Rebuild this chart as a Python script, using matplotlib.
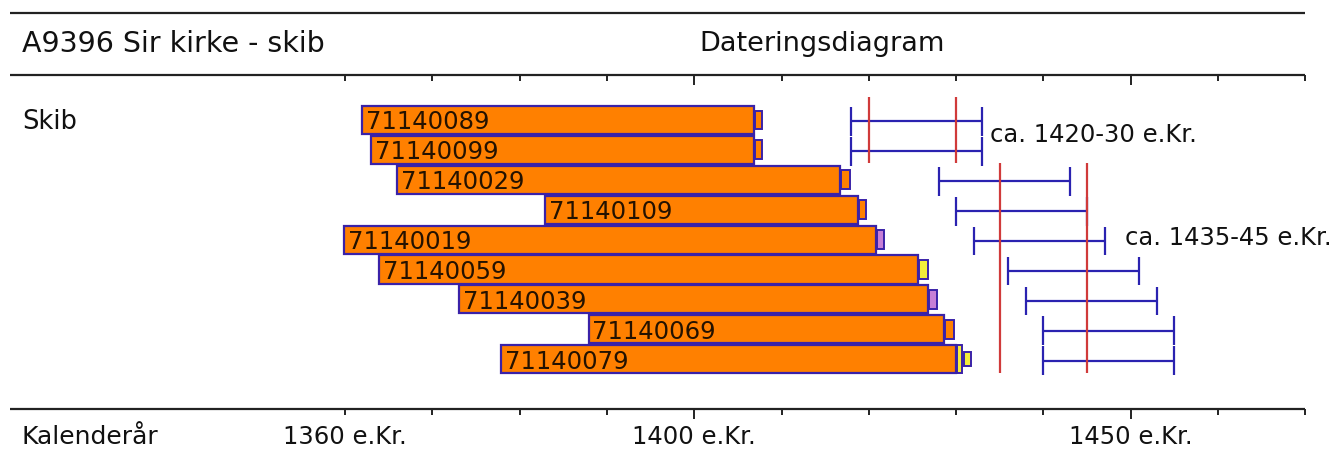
import matplotlib
matplotlib.use("Agg")
import matplotlib.pyplot as plt
from matplotlib.patches import Rectangle

# ---------------- data ----------------
title_left = "A9396 Sir kirke - skib"
title_mid = "Dateringsdiagram"
group_label = "Skib"
axis_label = "Kalenderår"

samples = ["71140089", "71140099", "71140029", "71140109", "71140019",
           "71140059", "71140039", "71140069", "71140079"]
ring_start = [1361.9, 1363.0, 1366.0, 1382.9, 1359.9, 1363.9, 1373.1, 1387.9, 1377.9]
ring_end = [1406.9, 1406.9, 1416.7, 1418.8, 1420.8, 1425.6, 1426.8, 1428.6, 1430.0]
box_end = [1407.8, 1407.8, 1417.8, 1419.7, 1421.7, 1426.8, 1427.8, 1429.8, 1430.7]
box_kind = ["orange", "orange", "orange", "orange", "purple", "yellow", "purple", "orange", "yellow_full"]
extra_box = [None, None, None, None, None, None, None, None, (1430.9, 1431.7)]

felling_lo = [1418, 1418, 1428, 1430, 1432, 1436, 1438, 1440, 1440]
felling_hi = [1433, 1433, 1443, 1445, 1447, 1451, 1453, 1455, 1455]

groups_years = [(1420, 1430), (1435, 1445)]
groups_text = ["ca. 1420-30 e.Kr.", "ca. 1435-45 e.Kr."]
groups_text_row = [0.5, 3.95]
groups_text_x = [1433.9, 1449.3]

tick_years = list(range(1360, 1471, 10))
major_years = [1400, 1450]
tick_labels = {1360: "1360 e.Kr.", 1400: "1400 e.Kr.", 1450: "1450 e.Kr."}

# ---------------- styles ----------------
ORANGE = "#FF8000"
EDGE = "#3A22A8"
BLUE = "#2A22B0"
RED = "#D03A3A"
BOXCOL = {"orange": ORANGE, "purple": "#C77FD6", "yellow": "#F4EE3A", "yellow_full": "#F4EE3A"}
FONT = "DejaVu Sans"

W, H = 1335, 459
fig = plt.figure(figsize=(W / 100, H / 100), dpi=100)
ax = fig.add_axes([0, 0, 1, 1])
ax.set_axis_off()

PX_PER_YR = 8.73
X0PX, X0YR = 345, 1360
ROW0PX, ROWPX = 120, 29.9
ax.set_xlim(X0YR - X0PX / PX_PER_YR, X0YR + (W - X0PX) / PX_PER_YR)
ax.set_ylim((H - ROW0PX) / ROWPX, -ROW0PX / ROWPX)

def ypx(p):
    return (p - ROW0PX) / ROWPX

def xpx(p):
    return X0YR + (p - X0PX) / PX_PER_YR

line_left, line_right = xpx(10), 1470
lw_axis = 1.6
ax.hlines([ypx(13), ypx(75), ypx(409)], line_left, line_right, color="#222222", lw=lw_axis)

short_t, long_t = 6 / ROWPX, 10 / ROWPX
for yy in (ypx(75), ypx(409)):
    for t in tick_years:
        L = long_t if t in major_years else short_t
        ax.vlines(t, yy, yy + L, color="#222222", lw=1.4)

# header texts
ax.text(xpx(22), ypx(44), title_left, fontsize=20.5, family=FONT, va="center", ha="left", color="#111111")
ax.text(xpx(822), ypx(44), title_mid, fontsize=19.5, family=FONT, va="center", ha="center", color="#111111")
ax.text(xpx(22), ypx(122), group_label, fontsize=18.5, family=FONT, va="center", ha="left", color="#111111")
ax.text(xpx(22), ypx(437), axis_label, fontsize=18, family=FONT, va="center", ha="left", color="#111111")
for t, lab in tick_labels.items():
    ax.text(t, ypx(437), lab, fontsize=17.5, family=FONT, va="center", ha="center", color="#111111")

# bars
bh = 0.94
for i, name in enumerate(samples):
    ax.add_patch(Rectangle((ring_start[i], i - bh / 2), ring_end[i] - ring_start[i], bh,
                           facecolor=ORANGE, edgecolor=EDGE, lw=1.6, zorder=3))
    kind = box_kind[i]
    h = bh if kind == "yellow_full" else 0.63
    ax.add_patch(Rectangle((ring_end[i] + 0.1, i - h / 2), box_end[i] - ring_end[i] - 0.1, h,
                           facecolor=BOXCOL[kind], edgecolor=EDGE, lw=1.4, zorder=3))
    if extra_box[i] is not None:
        a, b = extra_box[i]
        ax.add_patch(Rectangle((a, i - 0.24), b - a, 0.48,
                               facecolor=BOXCOL["yellow"], edgecolor=EDGE, lw=1.4, zorder=3))
    ax.text(ring_start[i] + 0.45, i + 0.08, name, fontsize=17.5, family=FONT,
            va="center", ha="left", color="#241200", zorder=4)

# felling intervals
cap = 0.48
for i in range(len(samples)):
    ax.hlines(i + 0.05, felling_lo[i], felling_hi[i], color=BLUE, lw=1.6, zorder=2)
    ax.vlines([felling_lo[i], felling_hi[i]], i + 0.05 - cap, i + 0.05 + cap, color=BLUE, lw=1.6, zorder=2)

# group red lines and texts
red_spans = [(-0.77, 1.45), (1.45, 8.47)]
for (r0, r1), (ya, yb), txt, tr, tx in zip(red_spans, groups_years, groups_text, groups_text_row, groups_text_x):
    ax.vlines([ya, yb], r0, r1, color=RED, lw=1.6, zorder=2.5)
    ax.text(tx, tr, txt, fontsize=17.5, family=FONT, va="center", ha="left", color="#111111")

fig.savefig("out.png", dpi=100)
